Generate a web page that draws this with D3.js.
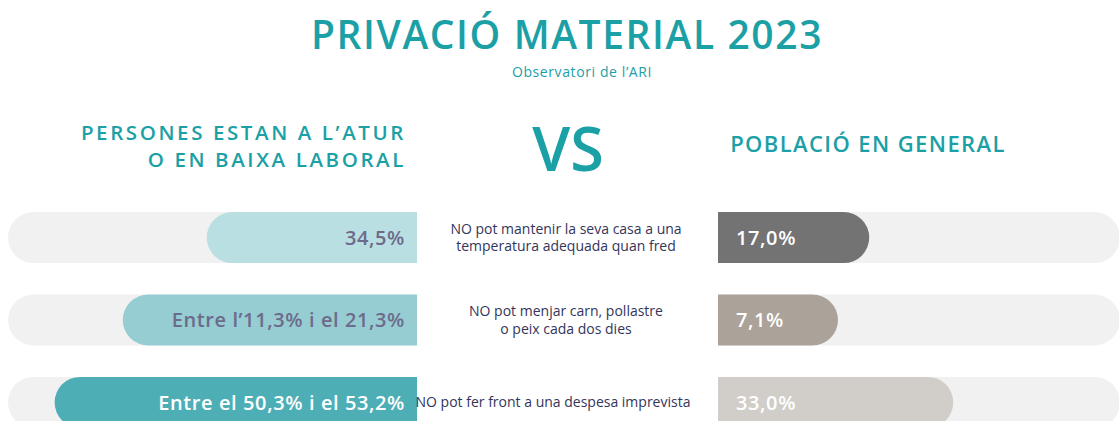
<!DOCTYPE html>
<html><head><meta charset="utf-8">
<script src="https://cdn.jsdelivr.net/npm/d3@7"></script>
<style>body{margin:0;background:#fff;} svg{display:block;}</style>
</head><body>
<svg id="c" width="1119" height="421"></svg>
<script>
// ---- data ----
const title = "PRIVACIÓ MATERIAL 2023";
const subtitle = "Observatori de l’ARI";
const leftHeader = ["PERSONES ESTAN A L’ATUR", "O EN BAIXA LABORAL"];
const rightHeader = ["POBLACIÓ EN GENERAL"];
const categories = [
  ["NO pot mantenir la seva casa a una", "temperatura adequada quan fred"],
  ["NO pot menjar carn, pollastre", "o peix cada dos dies"],
  ["NO pot fer front a una despesa imprevista"]
];
const leftLow = [34.5, 11.3, 50.3];
const leftHigh = [34.5, 21.3, 53.2];
const leftLabels = ["34,5%", "Entre l’11,3% i el 21,3%", "Entre el 50,3% i el 53,2%"];
const rightValues = [17.0, 7.1, 33.0];
const rightLabels = ["17,0%", "7,1%", "33,0%"];
const leftColors = ["#b9dfe2", "#95cdd2", "#4eaeb5"];
const leftTextColors = ["#6d6b8b", "#6d6b8b", "#ffffff"];
const rightColors = ["#737373", "#aba299", "#d1cdc8"];

// ---- drawing ----
const svg = d3.select("#c");
const teal = "#1ba0a6";
const F = "'Open Sans', sans-serif";

svg.append("text").attr("x", 567).attr("y", 49).attr("text-anchor", "middle")
  .attr("font-family", F).attr("font-weight", 600).attr("font-size", 39)
  .attr("letter-spacing", 1.6)
  .attr("fill", teal).text(title);
svg.append("text").attr("x", 582).attr("y", 77).attr("text-anchor", "middle")
  .attr("font-family", F).attr("font-size", 14).attr("letter-spacing", 0.6)
  .attr("fill", teal).text(subtitle);

leftHeader.forEach((t, i) => {
  svg.append("text").attr("x", 406).attr("y", 140 + i * 27).attr("text-anchor", "end")
    .attr("font-family", F).attr("font-weight", 600).attr("font-size", 20.5)
    .attr("letter-spacing", 2.6)
    .attr("fill", teal).text(t);
});
svg.append("text").attr("x", 868).attr("y", 152).attr("text-anchor", "middle")
  .attr("font-family", F).attr("font-weight", 600).attr("font-size", 22)
  .attr("letter-spacing", 1.4)
  .attr("fill", teal).text(rightHeader[0]);
svg.append("text").attr("x", 568).attr("y", 171).attr("text-anchor", "middle")
  .attr("font-family", F).attr("font-weight", 600).attr("font-size", 61)
  .attr("fill", teal).text("VS");

const y = d3.scaleBand().domain(d3.range(categories.length)).range([212, 428]).paddingInner(0.38);
const h = y.bandwidth();
const r = h / 2;

const leftEnd = 416, leftStart = 8;
const rightStart = 718, rightEnd = 1120;
const xL = d3.scaleLinear().domain([10, 55]).range([10, 376]);
const xR = d3.scaleLinear().domain([0, 40]).range([62, 272]);

function leftPath(x0, x1, yy) {
  return `M${x1},${yy}H${x0 + r}A${r},${r} 0 0 0 ${x0 + r},${yy + h}H${x1}Z`;
}
function rightPath(x0, x1, yy) {
  return `M${x0},${yy}H${x1 - r}A${r},${r} 0 0 1 ${x1 - r},${yy + h}H${x0}Z`;
}

const measure = svg.append("text").attr("font-family", F)
  .attr("font-weight", 600).attr("font-size", 20).attr("letter-spacing", 0.6)
  .attr("visibility", "hidden");
function tw(t) { measure.text(t); return measure.node().getComputedTextLength(); }

categories.forEach((lines, i) => {
  const yy = y(i);
  const cy = yy + h / 2;
  // tracks
  svg.append("path").attr("d", leftPath(leftStart, leftEnd, yy)).attr("fill", "#f1f1f1");
  svg.append("path").attr("d", rightPath(rightStart, rightEnd, yy)).attr("fill", "#f1f1f1");
  // left bar
  const wl = Math.max(xL(leftHigh[i]), tw(leftLabels[i]) + 60);
  svg.append("path").attr("d", leftPath(leftEnd - wl, leftEnd + 1, yy)).attr("fill", leftColors[i]);
  svg.append("text").attr("x", leftEnd - 11).attr("y", cy).attr("dy", "0.36em")
    .attr("text-anchor", "end").attr("font-family", F)
    .attr("font-weight", 600).attr("font-size", 20).attr("letter-spacing", 0.6)
    .attr("fill", leftTextColors[i])
    .text(leftLabels[i]);
  // right bar
  const wr = Math.max(xR(rightValues[i]), tw(rightLabels[i]) + 72);
  svg.append("path").attr("d", rightPath(rightStart, rightStart + wr, yy)).attr("fill", rightColors[i]);
  svg.append("text").attr("x", rightStart + 18).attr("y", cy).attr("dy", "0.36em")
    .attr("font-family", F)
    .attr("font-weight", 600).attr("font-size", 20).attr("letter-spacing", 0.6)
    .attr("fill", "#ffffff")
    .text(rightLabels[i]);
  // category text
  const n = lines.length;
  lines.forEach((t, j) => {
    svg.append("text").attr("x", n === 1 ? 553 : 566)
      .attr("y", cy + (j - (n - 1) / 2) * 17.5).attr("dy", "0.35em")
      .attr("text-anchor", "middle").attr("font-family", F)
      .attr("font-size", 14).attr("fill", "#33355a").text(t);
  });
});
measure.remove();
</script>
</body></html>
